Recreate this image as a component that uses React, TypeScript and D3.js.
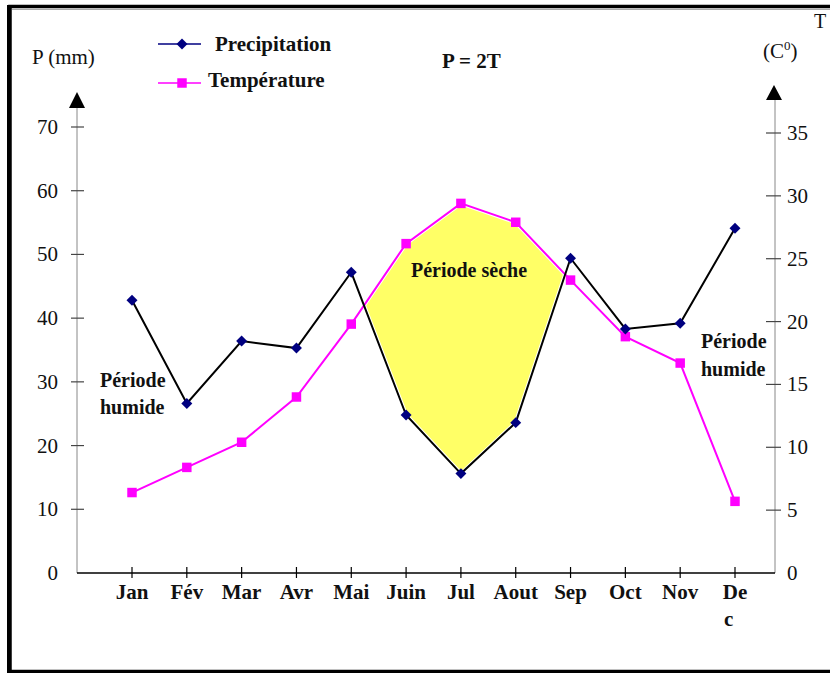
import React from "react";
import * as d3 from "d3";

const months = ["Jan", "Fév", "Mar", "Avr", "Mai", "Juin", "Jul", "Aout", "Sep", "Oct", "Nov", "Dec"];
const monthLabels = [["Jan"], ["Fév"], ["Mar"], ["Avr"], ["Mai"], ["Juin"], ["Jul"], ["Aout"], ["Sep"], ["Oct"], ["Nov"], ["De", "c"]];
const precipitation = [42.8, 26.6, 36.4, 35.3, 47.2, 24.8, 15.6, 23.6, 49.4, 38.3, 39.2, 54.1];
const temperature = [6.4, 8.4, 10.4, 14.0, 19.8, 26.2, 29.4, 27.9, 23.3, 18.8, 16.7, 5.7];
const pTicks = [0, 10, 20, 30, 40, 50, 60, 70];
const tTicks = [0, 5, 10, 15, 20, 25, 30, 35];

const SERIF = "'Liberation Serif', 'Times New Roman', serif";
const NAVY = "#000080";
const MAGENTA = "#FF00FF";
const YELLOW = "#FFFF66";

export default function App() {
  const W = 830, H = 673;
  const axisLeft = 77, axisRight = 775, axisY = 573;

  const x = d3.scalePoint<string>().domain(months).range([132, 735]);
  const yP = d3.scaleLinear().domain([0, 70]).range([axisY, 127]);
  const yT = d3.scaleLinear().domain([0, 35]).range([axisY, 133]);

  const pPts: [number, number][] = months.map((m, i) => [x(m)!, yP(precipitation[i])]);
  const tPts: [number, number][] = months.map((m, i) => [x(m)!, yT(temperature[i])]);

  const line = d3.line<[number, number]>();

  // dry period polygons: where temperature curve lies above precipitation curve
  const polys: [number, number][][] = [];
  let top: [number, number][] = [];
  let bot: [number, number][] = [];
  const d = pPts.map((p, i) => p[1] - tPts[i][1]);
  for (let i = 0; i < months.length; i++) {
    if (d[i] > 0) {
      top.push(tPts[i]);
      bot.push(pPts[i]);
    }
    if (i < months.length - 1 && (d[i] > 0) !== (d[i + 1] > 0)) {
      const t = d[i] / (d[i] - d[i + 1]);
      const cx = tPts[i][0] + t * (tPts[i + 1][0] - tPts[i][0]);
      const cy = tPts[i][1] + t * (tPts[i + 1][1] - tPts[i][1]);
      top.push([cx, cy]);
      if (d[i] > 0) {
        polys.push([...top, ...bot.reverse()]);
        top = [];
        bot = [];
      }
    }
  }
  if (top.length) polys.push([...top, ...bot.reverse()]);

  const diamond = d3.symbol().type(d3.symbolSquare).size(60)();
  const square = d3.symbol().type(d3.symbolSquare).size(90)();

  return (
    <svg width={W} height={H} style={{ position: "absolute", left: 0, top: 0, display: "block", background: "#fff" }}>
      {/* frame */}
      <rect x={10} y={6.5} width={W + 20} height={665} fill="none" stroke="#000" strokeWidth={3.5} />
      <line x1={12} x2={W} y1={9.5} y2={9.5} stroke="#aaa" strokeWidth={1} />
      <line x1={8} x2={8} y1={5} y2={H} stroke="#000" strokeWidth={2} />

      {/* dry period */}
      {polys.map((p, i) => (
        <path key={i} d={line(p)! + "Z"} fill={YELLOW} stroke="#fff" strokeWidth={4} strokeLinejoin="round" />
      ))}

      {/* left axis */}
      <line x1={axisLeft} x2={axisLeft} y1={105} y2={axisY} stroke="#888" strokeWidth={1} />
      <path d={`M${axisLeft},92 L${axisLeft + 8},108 L${axisLeft - 8},108 Z`} fill="#000" />
      {pTicks.map((t) => (
        <g key={t}>
          {t > 0 && <line x1={axisLeft - 6} x2={axisLeft + 7} y1={yP(t)} y2={yP(t)} stroke="#444" strokeWidth={1.2} />}
          <text x={58} y={yP(t) + 7} textAnchor="end" fontFamily={SERIF} fontSize={21} fill="#111">{t}</text>
        </g>
      ))}

      {/* right axis */}
      <line x1={axisRight} x2={axisRight} y1={97} y2={axisY} stroke="#888" strokeWidth={1} />
      <path d={`M${axisRight - 1},85 L${axisRight + 7},100 L${axisRight - 9},100 Z`} fill="#000" />
      {tTicks.map((t) => (
        <g key={t}>
          {t > 0 && <line x1={axisRight - 9} x2={axisRight + 6} y1={yT(t)} y2={yT(t)} stroke="#444" strokeWidth={1.2} />}
          <text x={787} y={yT(t) + 7} textAnchor="start" fontFamily={SERIF} fontSize={21} fill="#111">{t}</text>
        </g>
      ))}

      {/* bottom axis */}
      <line x1={axisLeft} x2={axisRight} y1={axisY} y2={axisY} stroke="#000" strokeWidth={1.5} />
      {months.map((m, i) => (
        <g key={m}>
          <line x1={x(m)!} x2={x(m)!} y1={axisY - 6} y2={axisY + 5} stroke="#000" strokeWidth={1.2} />
          {monthLabels[i].map((s, j) => (
            <text key={j} x={j === 0 ? x(m)! : x(m)! - 11} y={599 + j * 27} textAnchor={j === 0 ? "middle" : "start"}
              fontFamily={SERIF} fontSize={21} fontWeight="bold" fill="#111">{s}</text>
          ))}
        </g>
      ))}

      {/* series lines */}
      <path d={line(tPts)!} fill="none" stroke={MAGENTA} strokeWidth={2} />
      <path d={line(pPts)!} fill="none" stroke="#000" strokeWidth={2} />
      {tPts.map((p, i) => (
        <path key={"t" + i} d={square!} transform={`translate(${p[0]},${p[1]})`} fill={MAGENTA} />
      ))}
      {pPts.map((p, i) => (
        <path key={"p" + i} d={diamond!} transform={`translate(${p[0]},${p[1]}) rotate(45)`} fill={NAVY} />
      ))}

      {/* legend */}
      <line x1={158} x2={201} y1={44} y2={44} stroke={NAVY} strokeWidth={1.5} />
      <path d={diamond!} transform="translate(182,44) rotate(45)" fill={NAVY} />
      <text x={215} y={51} fontFamily={SERIF} fontSize={21} fontWeight="bold" fill="#111">Precipitation</text>
      <line x1={158} x2={201} y1={83} y2={83} stroke={MAGENTA} strokeWidth={1.5} />
      <path d={square!} transform="translate(182,83)" fill={MAGENTA} />
      <text x={208} y={87} fontFamily={SERIF} fontSize={21} fontWeight="bold" fill="#111">Température</text>

      {/* titles */}
      <text x={32} y={64} fontFamily={SERIF} fontSize={21} fill="#111">P (mm)</text>
      <text x={442} y={68} fontFamily={SERIF} fontSize={21} fontWeight="bold" fill="#111">P = 2T</text>
      <text x={763} y={58} fontFamily={SERIF} fontSize={21} fill="#111">(C<tspan dy={-8} fontSize={13}>0</tspan><tspan dy={8}>)</tspan></text>
      <text x={814} y={28} fontFamily={SERIF} fontSize={20} fill="#111">T</text>

      {/* annotations */}
      <text x={469} y={277} textAnchor="middle" fontFamily={SERIF} fontSize={20} fontWeight="bold" fill="#111">Période sèche</text>
      <text x={100} y={387} fontFamily={SERIF} fontSize={20} fontWeight="bold" fill="#111">Période</text>
      <text x={100} y={414} fontFamily={SERIF} fontSize={20} fontWeight="bold" fill="#111">humide</text>
      <text x={701} y={348} fontFamily={SERIF} fontSize={20} fontWeight="bold" fill="#111">Période</text>
      <text x={701} y={376} fontFamily={SERIF} fontSize={20} fontWeight="bold" fill="#111">humide</text>
    </svg>
  );
}
